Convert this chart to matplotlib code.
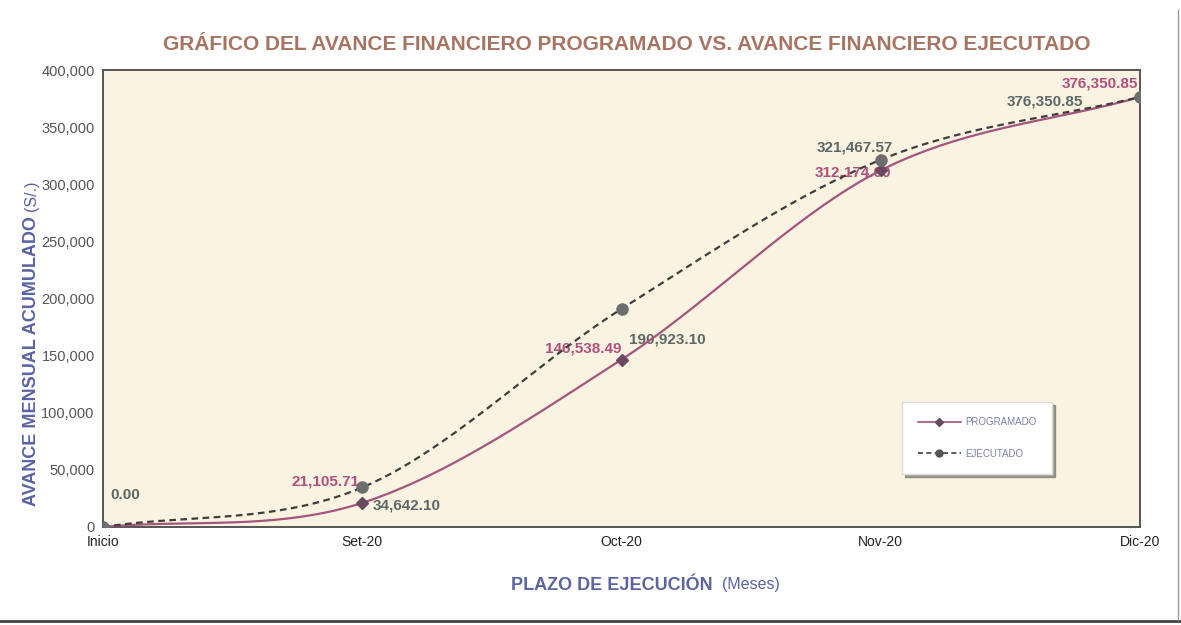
import numpy as np
import matplotlib.pyplot as plt
from matplotlib.lines import Line2D

# datos
meses = ["Inicio", "Set-20", "Oct-20", "Nov-20", "Dic-20"]
programado = [0.00, 21105.71, 146538.49, 312174.00, 376350.85]
ejecutado = [0.00, 34642.10, 190923.10, 321467.57, 376350.85]
y_ticks = [0, 50000, 100000, 150000, 200000, 250000, 300000, 350000, 400000]

narrow = ["Liberation Sans Narrow", "Liberation Sans", "DejaVu Sans"]
arial = ["Liberation Sans", "DejaVu Sans"]

c_title = "#a87462"
c_axis = "#5a63a3"
c_prog = "#a4557e"
c_ejec = "#3e3e3e"
c_lbl_prog = "#b0507e"
c_lbl_ejec = "#5c6868"


def smooth(x, y, n=40):
    # curva suavizada tipo Catmull-Rom (como linea suavizada de Excel)
    x = np.asarray(x, float)
    y = np.asarray(y, float)
    px = np.concatenate([[2 * x[0] - x[1]], x, [2 * x[-1] - x[-2]]])
    py = np.concatenate([[2 * y[0] - y[1]], y, [2 * y[-1] - y[-2]]])
    xs, ys = [], []
    t = np.linspace(0, 1, n)
    for i in range(1, len(px) - 2):
        for p, out in ((px, xs), (py, ys)):
            p0, p1, p2, p3 = p[i - 1], p[i], p[i + 1], p[i + 2]
            out.append(0.5 * ((2 * p1) + (-p0 + p2) * t
                              + (2 * p0 - 5 * p1 + 4 * p2 - p3) * t ** 2
                              + (-p0 + 3 * p1 - 3 * p2 + p3) * t ** 3))
    return np.concatenate(xs), np.concatenate(ys)


fig = plt.figure(figsize=(11.81, 6.25), dpi=100)
fig.patch.set_facecolor("white")
ax = fig.add_axes([103 / 1181, 1 - 527 / 625, (1140 - 103) / 1181, (527 - 70) / 625])
ax.set_facecolor("#fbf3e1")

x = np.arange(len(meses))
sx, sy = smooth(x, programado)
ax.plot(sx, sy, color=c_prog, lw=1.6, zorder=3)
ax.plot(x, programado, ls="none", marker="D", ms=6, color="#6a4a60", zorder=4)
sx, sy = smooth(x, ejecutado)
ax.plot(sx, sy, color=c_ejec, lw=1.6, ls=(0, (3, 2)), zorder=3)
ax.plot(x, ejecutado, ls="none", marker="o", ms=8, color="#6e6e6e", zorder=4)

ax.set_xlim(0, len(meses) - 1)
ax.set_ylim(0, 400000)
ax.set_xticks(x)
ax.set_xticklabels(meses, family=arial, fontsize=10, color="#222222")
ax.set_yticks(y_ticks)
ax.set_yticklabels([f"{v:,.0f}" for v in y_ticks], family=arial, fontsize=10.5, color="#555555")
ax.tick_params(length=0, pad=6)
for s in ax.spines.values():
    s.set_color("#555555")
    s.set_linewidth(1.4)

# etiquetas de datos
lbl = dict(textcoords="offset pixels", family=narrow, fontsize=11, fontweight="bold",
           annotation_clip=False, zorder=2)
ax.annotate("0.00", (0, ejecutado[0]), xytext=(7, 28), ha="left", color=c_lbl_ejec, **lbl)
ax.annotate(f"{programado[1]:,.2f}", (1, programado[1]), xytext=(-3, 17), ha="right", color=c_lbl_prog, **lbl)
ax.annotate(f"{ejecutado[1]:,.2f}", (1, ejecutado[1]), xytext=(10, -22), ha="left", color=c_lbl_ejec, **lbl)
ax.annotate(f"{programado[2]:,.2f}", (2, programado[2]), xytext=(0, 7), ha="right", color=c_lbl_prog, **lbl)
ax.annotate(f"{ejecutado[2]:,.2f}", (2, ejecutado[2]), xytext=(8, -35), ha="left", color=c_lbl_ejec, **lbl)
ax.annotate(f"{programado[3]:,.2f}", (3, programado[3]), xytext=(10, -6), ha="right", color=c_lbl_prog, **lbl)
ax.annotate(f"{ejecutado[3]:,.2f}", (3, ejecutado[3]), xytext=(-26, 8), ha="center", color=c_lbl_ejec, **lbl)
ax.annotate(f"{ejecutado[4]:,.2f}", (4, ejecutado[4]), xytext=(-95, -8), ha="center", color=c_lbl_ejec, **lbl)
ax.annotate(f"{programado[4]:,.2f}", (4, programado[4]), xytext=(-40, 10), ha="center", color=c_lbl_prog, **lbl)

# leyenda
handles = [Line2D([], [], color=c_prog, lw=1.2, marker="D", ms=4, mfc="#6a4a60", mec="#6a4a60"),
           Line2D([], [], color=c_ejec, lw=1.2, ls=(0, (3, 2)), marker="o", ms=5, mfc="#555555", mec="#555555")]
leg = fig.legend(handles, ["PROGRAMADO", "EJECUTADO"], loc="center",
                 bbox_to_anchor=(977 / 1181, 1 - 438 / 625), frameon=True, fancybox=False,
                 shadow=True, edgecolor="#dddddd", facecolor="white", framealpha=1,
                 prop=dict(family=narrow, size=7), labelcolor="#7a80a8",
                 borderpad=1.6, labelspacing=2.2, handlelength=4.5, handletextpad=0.4)

# titulos
fig.text(627 / 1181, 1 - 45 / 625, "GRÁFICO DEL AVANCE FINANCIERO PROGRAMADO VS. AVANCE FINANCIERO EJECUTADO",
         ha="center", va="center", family=narrow, fontsize=15, fontweight="bold", color=c_title)
fig.text(511 / 1181, 1 - 585 / 625, "PLAZO DE EJECUCIÓN", ha="left", va="center",
         family=arial, fontsize=13, fontweight="bold", color=c_axis)
fig.text(722 / 1181, 1 - 585 / 625, "(Meses)", ha="left", va="center",
         family=arial, fontsize=11.5, color=c_axis)
fig.text(32 / 1181, 1 - 361 / 625, "AVANCE MENSUAL ACUMULADO", ha="center", va="center", rotation=90,
         family=arial, fontsize=13, fontweight="bold", color=c_axis)
fig.text(32 / 1181, 1 - 196 / 625, "(S/.)", ha="center", va="center", rotation=90,
         family=arial, fontsize=11.5, color=c_axis)

# bordes de la hoja escaneada
fig.add_artist(Line2D([0, 1], [1 - 621 / 625] * 2, color="#444444", lw=2, transform=fig.transFigure))
fig.add_artist(Line2D([1178 / 1181] * 2, [1 - 620 / 625, 1 - 10 / 625], color="#999999", lw=1, transform=fig.transFigure))

fig.savefig("out.png", dpi=100)
